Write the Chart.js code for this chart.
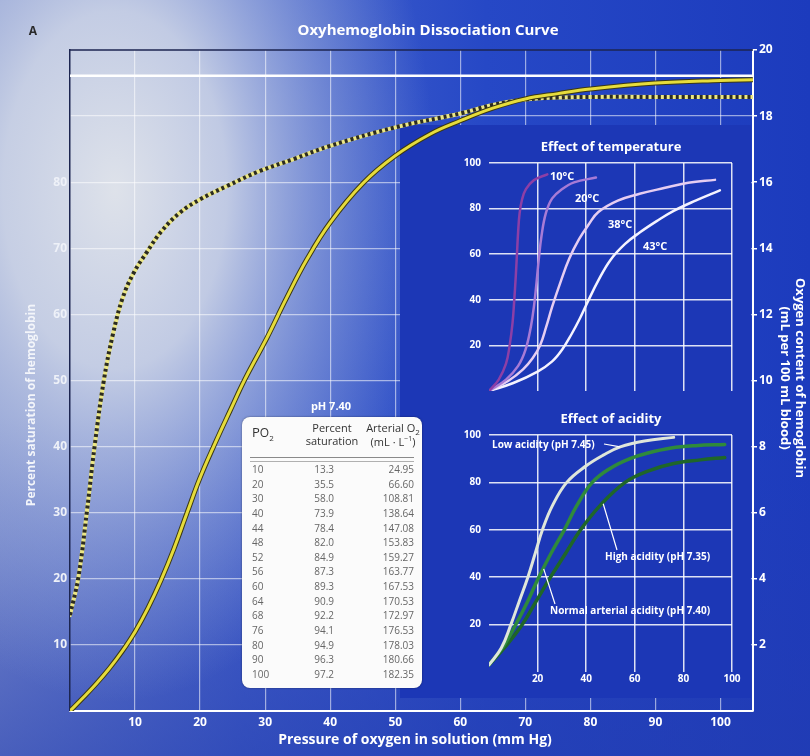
<!DOCTYPE html>
<html>
<head>
<meta charset="utf-8">
<script src="https://cdn.jsdelivr.net/npm/chart.js@4.4.1/dist/chart.umd.min.js"></script>
<style>
  html, body { margin:0; padding:0; background:#ffffff; }
  #wrap { position:relative; width:810px; height:756px; overflow:hidden; font-family:"Open Sans","DejaVu Sans",sans-serif; }
  #mainCv { position:absolute; left:0; top:0; }
  #tempCv { position:absolute; left:440px; top:125px; }
  #acidCv { position:absolute; left:440px; top:400px; }
  #tbl { position:absolute; left:242px; top:417px; width:180px; height:271px; background:#fbfbfb; border-radius:8px; box-shadow:0 0 2px rgba(0,0,0,0.5); color:#333; }
  #tbl div { position:absolute; white-space:nowrap; line-height:1; }
  #phLbl { position:absolute; left:291px; width:80px; text-align:center; top:398px; color:#fff; font-weight:bold; font-size:11px; }
  .hdr { font-size:11px; color:#333; }
  .cell { font-size:10px; color:#666; }
  #sep { left:8px; width:164px; top:40px; height:3px; border-top:1px solid #8a8a8a; border-bottom:1px solid #b0b0b0; }
</style>
</head>
<body>
<div id="wrap">
  <canvas id="mainCv" width="810" height="756"></canvas>
  <canvas id="tempCv" width="305" height="280"></canvas>
  <canvas id="acidCv" width="305" height="300"></canvas>
  <div id="phLbl">pH 7.40</div>
  <div id="tbl"></div>
</div>
<script>
// ================= DATA =================
// Main chart axes
const xTickValues = [10, 20, 30, 40, 50, 60, 70, 80, 90, 100];
const leftGridValues = [10, 20, 30, 40, 50, 60, 70, 80, 90];
const leftLabelValues = [10, 20, 30, 40, 50, 60, 70, 80];
const rightTickValues = [2, 4, 6, 8, 10, 12, 14, 16, 18, 20];

// Oxyhemoglobin dissociation curve (pH 7.40), solid yellow line
const hbPo2 = [0, 2, 4, 6, 8, 10, 12, 14, 16, 18, 20, 22.3, 24.6, 26.9, 30.3, 33.3, 36.4, 40, 45, 50, 55.4, 60, 65, 70, 75, 80, 90, 100, 105];
const hbSat = [0, 2.0, 4.1, 6.4, 9.0, 12.0, 15.6, 19.8, 24.6, 30.0, 35.3, 40.5, 45.4, 50.2, 56.5, 62.5, 68.3, 73.9, 79.8, 84, 87.3, 89.3, 91.2, 92.6, 93.4, 94.1, 95, 95.4, 95.5];

// Dashed (hyperbolic) curve
const dashPo2 = [0, 1.3, 2.6, 3.8, 5.2, 6.6, 8.1, 9.8, 11.8, 14, 16.9, 20, 24.1, 29.2, 34.4, 40, 50, 60, 65, 70, 75, 80, 90, 105];
const dashSat = [14.5, 20.3, 30.2, 40.2, 50, 57, 62.5, 66.3, 69.4, 72.5, 75.4, 77.4, 79.4, 81.7, 83.5, 85.5, 88.3, 90.4, 91.7, 92.5, 92.8, 92.9, 92.9, 92.9];

// White reference line
const refLinePo2 = [0, 105];
const refLineSat = [96.1, 96.1];

// Table (pH 7.40)
const tablePo2 = [10, 20, 30, 40, 44, 48, 52, 56, 60, 64, 68, 76, 80, 90, 100];
const tableSat = ["13.3", "35.5", "58.0", "73.9", "78.4", "82.0", "84.9", "87.3", "89.3", "90.9", "92.2", "94.1", "94.9", "96.3", "97.2"];
const tableArterial = ["24.95", "66.60", "108.81", "138.64", "147.08", "153.83", "159.27", "163.77", "167.53", "170.53", "172.97", "176.53", "178.03", "180.66", "182.35"];

// Inset axes
const insetTickValues = [20, 40, 60, 80, 100];

// Effect of temperature
const temp10X = [0, 4, 7, 8.5, 9.7, 10.4, 11, 11.5, 12, 12.6, 13.6, 15.2, 18.5, 24];
const temp10Y = [0, 5, 12, 20, 30, 40, 50, 60, 70, 78, 84, 88.5, 92.5, 95];
const temp20X = [0, 7, 12, 15, 17.2, 18.6, 19.6, 20.5, 21.6, 23.4, 26, 30, 35, 44];
const temp20Y = [0, 5, 11, 18, 28, 38, 48, 58, 68, 78, 84.5, 88.5, 91.5, 93.6];
const temp38X = [0, 8, 14, 18, 21, 23.5, 26, 29.5, 33, 37, 41, 45, 53, 62, 72, 82, 93];
const temp38Y = [0, 4.5, 9.5, 14.5, 20, 28, 37, 48, 58, 66.5, 73, 78.5, 83.5, 86.5, 89, 91.3, 92.6];
const temp43X = [0, 10, 20, 26, 30, 34, 37.5, 40.4, 45, 50, 56, 62, 69, 76, 85, 95];
const temp43Y = [0, 3.5, 8.5, 13, 18, 25, 32, 38.6, 48.5, 57.5, 64.5, 69.5, 74.5, 79, 83.5, 88];

// Effect of acidity
const acidLowX = [0, 5, 9, 12.5, 16, 19, 22, 26, 32, 40, 47, 54, 64, 76];
const acidLowY = [3, 10, 20, 30, 40, 50, 60, 70, 80, 87, 91.5, 95, 97.5, 99];
const acidNormX = [0, 6, 11, 16, 20.5, 25.5, 31, 36, 42.5, 50, 58, 65, 75, 85, 97];
const acidNormY = [3, 11, 20, 30, 40, 50, 60, 70, 80, 86, 90, 92.3, 94.5, 95.5, 96];
const acidHighX = [0, 7, 13.7, 19.5, 25.3, 31.5, 37.7, 45.5, 56, 66, 76, 87, 97];
const acidHighY = [3, 11, 20, 30, 40, 50, 60, 70, 80, 85, 88, 89.5, 90.5];

// ================= HELPERS =================
const FONT = '"Open Sans","DejaVu Sans",sans-serif';
function pts(xs, ys) { return xs.map((x, i) => ({ x: x, y: ys[i] })); }
function fixedTicks(values) { return function (axis) { axis.ticks = values.map(v => ({ value: v })); }; }
function txt(ctx, s, x, y, font, color, align, rot) {
  ctx.save();
  ctx.font = font; ctx.fillStyle = color;
  ctx.textAlign = align || 'center'; ctx.textBaseline = 'middle';
  ctx.translate(x, y);
  if (rot) ctx.rotate(rot);
  ctx.fillText(s, 0, 0);
  ctx.restore();
}
function line(xs, ys, color, w, extra) {
  return Object.assign({ data: pts(xs, ys), borderColor: color, borderWidth: w, pointRadius: 0,
    tension: 0.4, fill: false, borderCapStyle: 'round', borderJoinStyle: 'round' }, extra || {});
}

// ================= MAIN CHART =================
const mainDecor = {
  id: 'mainDecor',
  beforeDraw(chart) {
    const { ctx, width, height } = chart;
    ctx.save();
    const lg = ctx.createLinearGradient(0, 0, width, 0);
    lg.addColorStop(0, '#8193cf');
    lg.addColorStop(0.3, '#4664cc');
    lg.addColorStop(0.6, '#2648c6');
    lg.addColorStop(1, '#1c3bbd');
    ctx.fillStyle = lg; ctx.fillRect(0, 0, width, height);
    const vg = ctx.createLinearGradient(0, 0, 0, height);
    vg.addColorStop(0, 'rgba(40,60,180,0)');
    vg.addColorStop(0.55, 'rgba(40,60,180,0)');
    vg.addColorStop(1, 'rgba(35,60,175,0.6)');
    ctx.fillStyle = vg; ctx.fillRect(0, 0, width, height);
    ctx.translate(115, 190); ctx.scale(1, 1.6);
    const rg = ctx.createRadialGradient(0, 0, 0, 0, 0, 320);
    rg.addColorStop(0, 'rgba(222,226,234,1)');
    rg.addColorStop(0.35, 'rgba(208,215,231,0.88)');
    rg.addColorStop(0.7, 'rgba(165,180,222,0.45)');
    rg.addColorStop(1, 'rgba(150,170,220,0)');
    ctx.fillStyle = rg; ctx.fillRect(-500, -500, 1000, 1000);
    ctx.restore();
  },
  beforeDatasetsDraw(chart) {
    const { ctx, chartArea } = chart;
    ctx.save();
    ctx.fillStyle = '#1c37b6';
    ctx.fillRect(400, 125, chartArea.right - 2 - 400, 698 - 125);
    ctx.strokeStyle = '#1c2550'; ctx.lineWidth = 1.5;
    ctx.beginPath(); ctx.moveTo(chartArea.left, chartArea.top); ctx.lineTo(chartArea.right, chartArea.top); ctx.stroke();
    ctx.restore();
  },
  afterDraw(chart) {
    const { ctx } = chart;
    txt(ctx, 'A', 33, 32, 'bold 12px ' + FONT, '#2a2a2a', 'center');
    txt(ctx, 'Oxyhemoglobin Dissociation Curve', 428, 31, 'bold 15px ' + FONT, '#ffffff', 'center');
    txt(ctx, 'Pressure of oxygen in solution (mm Hg)', 415, 740, 'bold 14px ' + FONT, '#ffffff', 'center');
    txt(ctx, 'Percent saturation of hemoglobin', 32, 405, 'bold 12px ' + FONT, '#f3f5fa', 'center', -Math.PI / 2);
    txt(ctx, 'Oxygen content of hemoglobin', 800, 378, 'bold 13px ' + FONT, '#ffffff', 'center', Math.PI / 2);
    txt(ctx, '(mL per 100 mL blood)', 785, 378, 'bold 13px ' + FONT, '#ffffff', 'center', Math.PI / 2);
  }
};

new Chart(document.getElementById('mainCv'), {
  type: 'line',
  data: {
    datasets: [
      line(refLinePo2, refLineSat, '#ffffff', 2.5, { tension: 0, order: 10 }),
      line(dashPo2, dashSat, '#ece785', 4, { order: 8 }),
      line(dashPo2, dashSat, '#2b2b22', 4, { borderDash: [3, 3], borderCapStyle: 'butt', order: 7 }),
      line(hbPo2, hbSat, '#3b3812', 5, { order: 6 }),
      line(hbPo2, hbSat, '#e6dc3c', 3, { order: 5 })
    ]
  },
  options: {
    responsive: false, animation: false, devicePixelRatio: 1,
    layout: { padding: { top: 50, left: 0, right: 0, bottom: 0 } },
    plugins: { legend: { display: false }, tooltip: { enabled: false }, title: { display: false } },
    scales: {
      x: {
        type: 'linear', min: 0, max: 105,
        afterBuildTicks: fixedTicks(xTickValues),
        afterFit(s) { s.height = 45; },
        grid: { color: 'rgba(255,255,255,0.55)', lineWidth: 1.2, drawTicks: false },
        border: { display: true, color: '#ffffff', width: 2 },
        ticks: { padding: 4, color: '#ffffff', font: { family: FONT, size: 12, weight: 'bold' } }
      },
      y: {
        type: 'linear', position: 'left', min: 0, max: 100,
        afterBuildTicks: fixedTicks(leftGridValues),
        afterFit(s) { s.width = 70; },
        grid: { color: 'rgba(255,255,255,0.55)', lineWidth: 1.2, drawTicks: false },
        border: { display: true, color: '#1c2550', width: 1.5 },
        ticks: { padding: 3, color: '#eef1f8', font: { family: FONT, size: 12, weight: 'bold' },
                 callback: v => leftLabelValues.includes(v) ? String(v) : '' }
      },
      y2: {
        type: 'linear', position: 'right', min: 0, max: 20,
        afterBuildTicks: fixedTicks(rightTickValues),
        afterFit(s) { s.width = 57; },
        grid: { display: true, drawOnChartArea: false, drawTicks: true, tickLength: 4, color: '#ffffff', lineWidth: 1.5 },
        border: { display: true, color: '#ffffff', width: 2 },
        ticks: { padding: 2, color: '#ffffff', font: { family: FONT, size: 12, weight: 'bold' } }
      }
    }
  },
  plugins: [mainDecor]
});

// ================= INSETS =================
function insetScales(showX, xHeight) {
  return {
    x: {
      type: 'linear', min: 0, max: 100,
      afterBuildTicks: fixedTicks(insetTickValues),
      afterFit(s) { s.height = xHeight; },
      grid: { color: 'rgba(255,255,255,0.85)', lineWidth: 1.5, drawTicks: false },
      border: { display: false },
      ticks: { display: showX, padding: 1, color: '#ffffff', font: { family: FONT, size: 10, weight: 'bold' } }
    },
    y: {
      type: 'linear', min: 0, max: 100,
      afterBuildTicks: fixedTicks(insetTickValues),
      afterFit(s) { s.width = 49; },
      grid: { color: 'rgba(255,255,255,0.85)', lineWidth: 1.5, drawTicks: false },
      border: { display: false },
      ticks: { padding: 8, color: '#ffffff', font: { family: FONT, size: 10, weight: 'bold' } }
    }
  };
}

const tempDecor = {
  id: 'tempDecor',
  afterDraw(chart) {
    const { ctx } = chart;
    txt(ctx, 'Effect of temperature', 171, 22, 'bold 13px ' + FONT, '#ffffff', 'center');
    const f = 'bold 11px ' + FONT;
    txt(ctx, '10\u00B0C', 110, 52, f, '#ffffff', 'left');
    txt(ctx, '20\u00B0C', 135, 74, f, '#ffffff', 'left');
    txt(ctx, '38\u00B0C', 168, 100, f, '#ffffff', 'left');
    txt(ctx, '43\u00B0C', 203, 122, f, '#ffffff', 'left');
  }
};
new Chart(document.getElementById('tempCv'), {
  type: 'line',
  data: { datasets: [
    line(temp10X, temp10Y, '#8d3fa6', 2.5),
    line(temp20X, temp20Y, '#a77bd6', 2.5),
    line(temp38X, temp38Y, '#e6cdf2', 2.5),
    line(temp43X, temp43Y, '#f5f3ff', 2.5)
  ] },
  options: {
    responsive: false, animation: false, devicePixelRatio: 1,
    layout: { padding: { top: 38, right: 13, left: 0, bottom: 0 } },
    plugins: { legend: { display: false }, tooltip: { enabled: false } },
    scales: insetScales(false, 7)
  },
  plugins: [tempDecor]
});

const acidDecor = {
  id: 'acidDecor',
  afterDraw(chart) {
    const { ctx } = chart;
    const xs = chart.scales.x, ys = chart.scales.y;
    txt(ctx, 'Effect of acidity', 171, 19, 'bold 13px ' + FONT, '#ffffff', 'center');
    const f = 'bold 10px ' + FONT;
    txt(ctx, 'Low acidity (pH 7.45)', 52, 45, f, '#ffffff', 'left');
    txt(ctx, 'High acidity (pH 7.35)', 165, 157, f, '#ffffff', 'left');
    txt(ctx, 'Normal arterial acidity (pH 7.40)', 110, 211, f, '#ffffff', 'left');
    ctx.save();
    ctx.strokeStyle = '#ffffff'; ctx.lineWidth = 1.2;
    ctx.beginPath();
    ctx.moveTo(164, 44); ctx.lineTo(xs.getPixelForValue(54), ys.getPixelForValue(95));
    ctx.moveTo(177, 150); ctx.lineTo(xs.getPixelForValue(47), ys.getPixelForValue(71));
    ctx.moveTo(115, 204); ctx.lineTo(xs.getPixelForValue(22.5), ys.getPixelForValue(43.5));
    ctx.stroke();
    ctx.restore();
  }
};
new Chart(document.getElementById('acidCv'), {
  type: 'line',
  data: { datasets: [
    line(acidLowX, acidLowY, '#dfe6da', 3),
    line(acidNormX, acidNormY, '#2f8a3b', 3.5),
    line(acidHighX, acidHighY, '#1f6629', 3.5)
  ] },
  options: {
    responsive: false, animation: false, devicePixelRatio: 1,
    layout: { padding: { top: 35, right: 13, left: 0, bottom: 0 } },
    plugins: { legend: { display: false }, tooltip: { enabled: false } },
    scales: insetScales(true, 28)
  },
  plugins: [acidDecor]
});

// ================= TABLE =================
(function buildTable() {
  const tbl = document.getElementById('tbl');
  function add(html, cls, style) {
    const d = document.createElement('div');
    d.className = cls; d.innerHTML = html; d.setAttribute('style', style); tbl.appendChild(d);
    return d;
  }
  add('P<span style="font-size:12px">O</span><sub style="font-size:8px">2</sub>', 'hdr', 'left:10px;top:9px;font-size:13px;');
  add('Percent', 'hdr', 'left:59px;width:62px;text-align:center;top:5px;');
  add('saturation', 'hdr', 'left:59px;width:62px;text-align:center;top:18px;');
  add('Arterial O<sub style="font-size:8px">2</sub>', 'hdr', 'left:120px;width:62px;text-align:center;top:5px;');
  add('(mL \u00B7 L<sup style="font-size:7px">\u22121</sup>)', 'hdr', 'left:120px;width:62px;text-align:center;top:18px;');
  add('', '', '').id = 'sep';
  tablePo2.forEach((p, i) => {
    const top = 47 + i * 14.64;
    add(String(p), 'cell', 'left:10px;top:' + top + 'px;');
    add(tableSat[i], 'cell', 'left:52px;width:40px;text-align:right;top:' + top + 'px;');
    add(tableArterial[i], 'cell', 'left:122px;width:50px;text-align:right;top:' + top + 'px;');
  });
})();
</script>
</body>
</html>
